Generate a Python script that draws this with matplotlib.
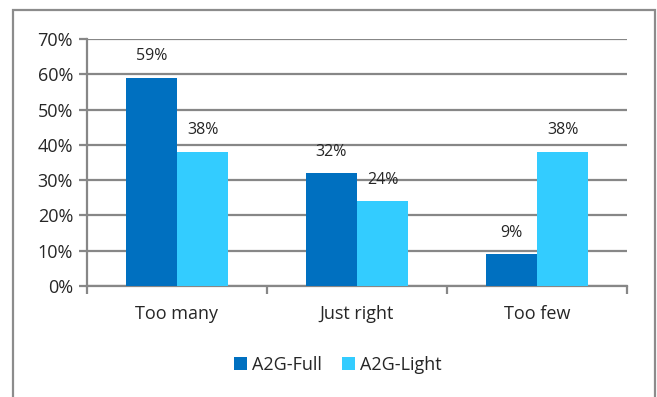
"""Grouped bar chart: A2G-Full vs A2G-Light response shares."""
import matplotlib
matplotlib.use("Agg")
import matplotlib.pyplot as plt
import numpy as np
from matplotlib.patches import Rectangle

categories = ["Too many", "Just right", "Too few"]
full_vals = [0.59, 0.32, 0.09]
light_vals = [0.38, 0.24, 0.38]
series_names = ["A2G-Full", "A2G-Light"]
y_ticks = [0.0, 0.1, 0.2, 0.3, 0.4, 0.5, 0.6, 0.7]

DARK = "#0070C0"
LIGHT = "#33CCFF"
GRID = "#878787"
TEXT = "#262626"

plt.rcParams["font.family"] = ["Open Sans", "DejaVu Sans"]

fig = plt.figure(figsize=(6.57, 3.97), dpi=100)
ax = fig.add_axes([87 / 657, 1 - 286 / 397, (627 - 87) / 657, (286 - 39) / 397])

x = np.arange(len(categories))
w = 0.285
bars_full = ax.bar(x - w / 2, full_vals, w, color=DARK, label=series_names[0], zorder=3)
bars_light = ax.bar(x + w / 2, light_vals, w, color=LIGHT, label=series_names[1], zorder=3)

for bars, vals in ((bars_full, full_vals), (bars_light, light_vals)):
    for b, v in zip(bars, vals):
        ax.annotate(f"{v * 100:.0f}%", (b.get_x() + b.get_width() / 2, v),
                    xytext=(0, 15.5), textcoords="offset points",
                    ha="center", va="center", fontsize=11.5, color=TEXT, zorder=4)

ax.set_xlim(-0.5, len(categories) - 0.5)
ax.set_ylim(0, 0.7)
ax.set_yticks(y_ticks)
ax.set_yticklabels([f"{t * 100:.0f}%" for t in y_ticks], fontsize=13, color=TEXT)
ax.yaxis.grid(True, color=GRID, linewidth=1.6, zorder=0)

# category labels centred, boundary ticks between categories
ax.set_xticks(np.arange(-0.5, len(categories), 1.0))
ax.set_xticklabels([])
ax.set_xticks(x, minor=True)
ax.set_xticklabels(categories, minor=True, fontsize=13, color=TEXT)
ax.tick_params(axis="x", which="major", length=6, width=1.6, color=GRID, direction="out")
ax.tick_params(axis="x", which="minor", length=0, pad=14)
ax.tick_params(axis="y", length=6, width=1.6, color=GRID, pad=4)

for side in ("top", "right"):
    ax.spines[side].set_visible(False)
for side in ("left", "bottom"):
    ax.spines[side].set_color(GRID)
    ax.spines[side].set_linewidth(1.6)

leg = fig.legend(handles=[bars_full, bars_light], loc="center", ncol=2,
                 bbox_to_anchor=(338 / 657, 1 - 365 / 397), frameon=False,
                 fontsize=13, handlelength=0.7, handleheight=0.7,
                 handletextpad=0.3, columnspacing=1.1)
for t in leg.get_texts():
    t.set_color(TEXT)

# outer chart border (bottom edge runs off the image)
fig.patches.append(Rectangle((12.5 / 657, -0.1), (655 - 12.5) / 657, 1.1 - 10 / 397,
                             transform=fig.transFigure, fill=False,
                             edgecolor="#8c8c8c", linewidth=1.6))

fig.savefig("out.png", dpi=100)
